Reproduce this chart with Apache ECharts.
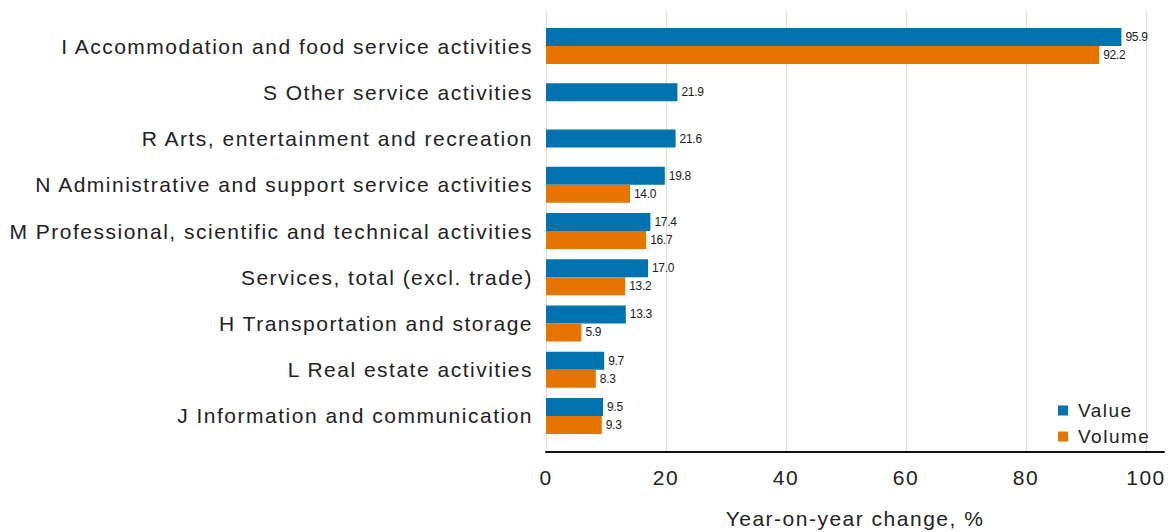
<!DOCTYPE html>
<html>
<head>
<meta charset="utf-8">
<script src="https://cdn.jsdelivr.net/npm/echarts@6/dist/echarts.min.js"></script>
<style>
  html, body { margin: 0; padding: 0; background: #fff; }
  #chart { width: 1169px; height: 532px; }
  /* the source renders text a little wider than Arial */
  #chart text { letter-spacing: 1.5px; }
  #chart text[style*="12px"] { letter-spacing: -0.3px; }
</style>
</head>
<body>
<div id="chart"></div>
<script>
const categories = [
  'I Accommodation and food service activities',
  'S Other service activities',
  'R Arts, entertainment and recreation',
  'N Administrative and support service activities',
  'M Professional, scientific and technical activities',
  'Services, total (excl. trade)',
  'H Transportation and storage',
  'L Real estate activities',
  'J Information and communication'
]
const valueChange = [95.9, 21.9, 21.6, 19.8, 17.4, 17.0, 13.3, 9.7, 9.5]
const volumeChange = [92.2, null, null, 14.0, 16.7, 13.2, 5.9, 8.3, 9.3]
const xTicks = [0, 20, 40, 60, 80, 100]

const BLUE = '#0072b0'
const ORANGE = '#e87400'
const FONT = "'Liberation Sans', Arial, sans-serif"

// rows without a volume figure get a single, centred value bar
const paired = valueChange.map((v, i) => volumeChange[i] == null ? '-' : v)
const single = valueChange.map((v, i) => volumeChange[i] == null ? v : '-')
const volume = volumeChange.map(v => v == null ? '-' : v)

const barLabel = {
  show: true,
  position: 'right',
  distance: 4,
  fontSize: 12,
  fontFamily: FONT,
  color: '#1a1a1a',
  formatter: p => Number(p.value).toFixed(1)
}

const chart = echarts.init(document.getElementById('chart'), null, { renderer: 'svg' })

const gridBase = { containLabel: false, outerBoundsMode: 'none' }

chart.setOption({
  animation: false,
  textStyle: { fontFamily: FONT },
  grid: [
    { ...gridBase, left: 546, width: 600, top: 23, height: 416 },   // bars
    { ...gridBase, left: 546, width: 600, top: 12, height: 440 },   // grid lines + ticks
    { ...gridBase, left: 546, width: 618, top: 12, height: 440 }    // baseline + name
  ],
  legend: {
    orient: 'vertical',
    left: 1053,
    top: 396,
    icon: 'rect',
    itemWidth: 10,
    itemHeight: 10,
    itemGap: 7,
    data: ['Value', 'Volume'],
    textStyle: { fontSize: 19, color: '#222', fontFamily: FONT, padding: [0, 0, 0, 5] }
  },
  xAxis: [
    { type: 'value', gridIndex: 0, min: 0, max: 100, show: false },
    {
      type: 'value', gridIndex: 1, min: 0, max: 100, interval: 20,
      axisLine: { show: false },
      axisTick: { show: false },
      axisLabel: { fontSize: 21, color: '#222', margin: 15, fontFamily: FONT,
        formatter: v => xTicks.includes(v) ? String(v) : '' },
      splitLine: { show: true, lineStyle: { color: '#dcdcdc', width: 1 } }
    },
    {
      type: 'value', gridIndex: 2, min: 0, max: 100,
      axisLine: { show: true, onZero: false, lineStyle: { color: '#111', width: 2 } },
      axisTick: { show: false },
      axisLabel: { show: false },
      splitLine: { show: false },
      name: 'Year-on-year change, %',
      nameLocation: 'middle',
      nameGap: 56,
      nameTextStyle: { fontSize: 21, color: '#222', fontFamily: FONT }
    }
  ],
  yAxis: [
    {
      type: 'category', gridIndex: 0, data: categories, inverse: true,
      axisLine: { show: false },
      axisTick: { show: false },
      axisLabel: { fontSize: 21, color: '#222', margin: 13, fontFamily: FONT }
    },
    { type: 'value', gridIndex: 1, show: false },
    { type: 'value', gridIndex: 2, show: false },
    { type: 'category', gridIndex: 0, data: categories, inverse: true, show: false }
  ],
  series: [
    {
      name: 'Value', type: 'bar', xAxisIndex: 0, yAxisIndex: 0,
      data: paired, barWidth: 18, barGap: '0%',
      itemStyle: { color: BLUE }, label: barLabel
    },
    {
      name: 'Volume', type: 'bar', xAxisIndex: 0, yAxisIndex: 0,
      data: volume, barWidth: 18, barGap: '0%',
      itemStyle: { color: ORANGE }, label: barLabel
    },
    {
      name: 'Value', type: 'bar', xAxisIndex: 0, yAxisIndex: 3,
      data: single, barWidth: 18,
      itemStyle: { color: BLUE }, label: barLabel
    }
  ]
})
</script>
</body>
</html>
